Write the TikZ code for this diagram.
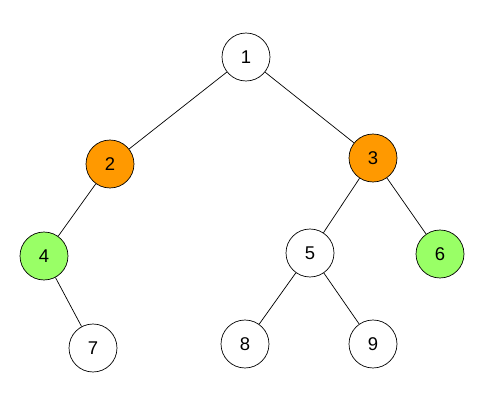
\documentclass[tikz,border=0pt]{standalone}
\usepackage{fontspec}
\setsansfont{Liberation Sans}
\usepackage{tikz}

\tikzset{
	vertex/.style={circle,draw,thin,minimum size=0.96cm,inner sep=0pt,font=\sffamily\fontsize{10.5}{12}\selectfont},
	hot/.style={vertex,fill=orange9},
	leafgreen/.style={vertex,fill=green9}
}
\definecolor{orange9}{HTML}{FF9900}
\definecolor{green9}{HTML}{99FF66}

\begin{document}
\begin{tikzpicture}[x=0.02cm,y=-0.02cm]
		%%Location
		\useasboundingbox (0,0) rectangle (494,412);
		%%Vertices
		\node[vertex] (n1) at (246,57) {1};
		\node[hot] (n2) at (110,164) {2};
		\node[hot] (n3) at (373,158) {3};
		\node[leafgreen] (n4) at (44,256) {4};
		\node[vertex] (n5) at (310,253) {5};
		\node[leafgreen] (n6) at (440,254) {6};
		\node[vertex] (n7) at (93,348) {7};
		\node[vertex] (n8) at (245,344) {8};
		\node[vertex] (n9) at (373,344) {9};
		%%Edges
		\draw (n1) -- (n2);
		\draw (n1) -- (n3);
		\draw (n2) -- (n4);
		\draw (n3) -- (n5);
		\draw (n3) -- (n6);
		\draw (n4) -- (n7);
		\draw (n5) -- (n8);
		\draw (n5) -- (n9);
\end{tikzpicture}
\end{document}
